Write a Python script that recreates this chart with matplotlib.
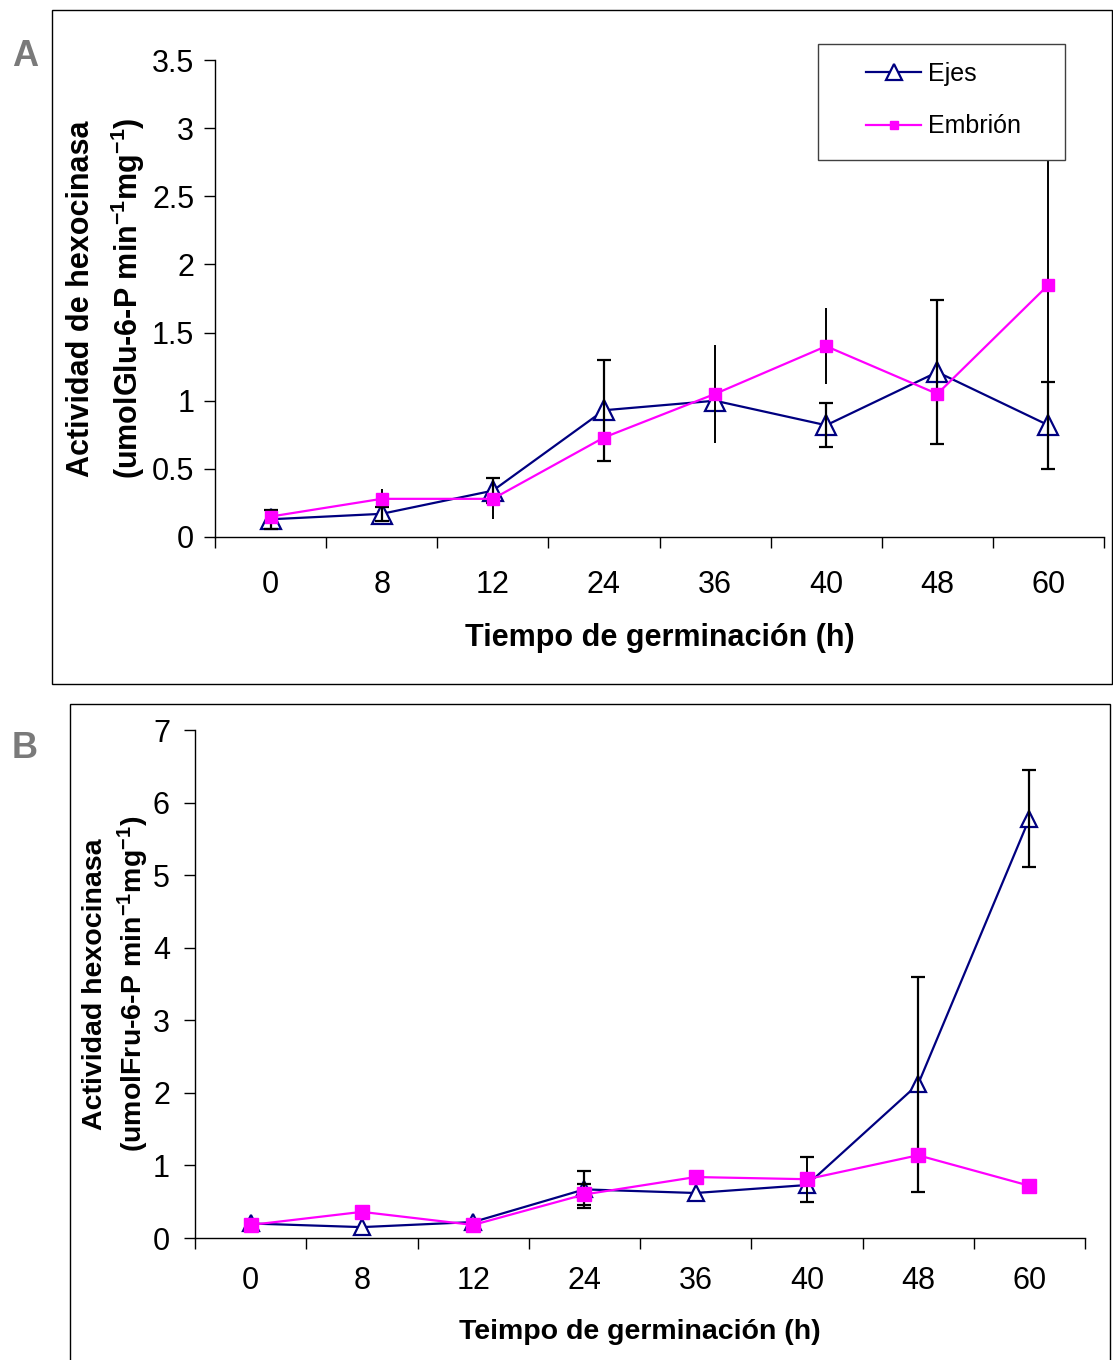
import matplotlib
matplotlib.use("Agg")
import matplotlib.pyplot as plt
from matplotlib.patches import Rectangle
import numpy as np

plt.rcParams["font.family"] = ["Liberation Sans", "DejaVu Sans"]
plt.rcParams["mathtext.default"] = "regular"

# hours of germination (categorical axis)
hours = ["0", "8", "12", "24", "36", "40", "48", "60"]

# panel A: hexokinase with glucose
ejes_a = [0.13, 0.17, 0.34, 0.93, 1.00, 0.82, 1.21, 0.82]
ejes_a_err = [0.07, 0.05, 0.09, 0.37, 0.0, 0.16, 0.53, 0.32]
emb_a = [0.15, 0.28, 0.28, 0.73, 1.05, 1.40, 1.05, 1.85]
emb_a_err = [0.0, 0.07, 0.15, 0.0, 0.36, 0.28, 0.0, 1.30]

# panel B: hexokinase with fructose
ejes_b = [0.20, 0.15, 0.22, 0.67, 0.62, 0.73, 2.12, 5.78]
ejes_b_err = [0.0, 0.0, 0.0, 0.26, 0.0, 0.0, 1.48, 0.67]
emb_b = [0.18, 0.36, 0.18, 0.60, 0.84, 0.81, 1.14, 0.72]
emb_b_err = [0.0, 0.0, 0.0, 0.15, 0.0, 0.31, 0.0, 0.0]

NAVY = "#000080"
MAGENTA = "#FF00FF"

W, H = 1113, 1360
fig = plt.figure(figsize=(W / 100, H / 100), dpi=100)


def px_box(left, top, right, bottom):
    return [left / W, 1 - bottom / H, (right - left) / W, (bottom - top) / H]


def draw_panel(ax, ejes, ejes_err, emb, emb_err, tri_ms, sq_ms, emb_caps):
    x = np.arange(len(hours))
    ax.plot(x, ejes, color=NAVY, lw=1.6, marker="^", ms=tri_ms, mfc="white",
            mec=NAVY, mew=1.6, zorder=2, label="Ejes")
    m = np.asarray(ejes_err) > 0
    ax.errorbar(x[m], np.asarray(ejes)[m], yerr=np.asarray(ejes_err)[m], fmt="none",
                ecolor="black", elinewidth=1.6, capsize=5, capthick=1.6, zorder=3)
    m = np.asarray(emb_err) > 0
    ax.errorbar(x[m], np.asarray(emb)[m], yerr=np.asarray(emb_err)[m], fmt="none",
                ecolor="black", elinewidth=1.4, capsize=5 if emb_caps else 0,
                capthick=1.6, zorder=3)
    ax.plot(x, emb, color=MAGENTA, lw=1.6, marker="s", ms=sq_ms, mfc=MAGENTA,
            mec=MAGENTA, zorder=4, label="Embrión")
    ax.set_xlim(-0.5, len(hours) - 0.5)
    ax.set_xticks(np.arange(len(hours) + 1) - 0.5)
    ax.set_xticklabels([])
    ax.set_xticks(x, minor=True)
    ax.set_xticklabels(hours, minor=True)
    ax.spines[["top", "right"]].set_visible(False)
    for s in ("left", "bottom"):
        ax.spines[s].set_linewidth(1.0)
    ax.tick_params(axis="x", which="major", direction="out", length=8, width=1.0)
    ax.tick_params(axis="y", which="major", direction="out", length=8, width=1.0)


# frames around panels
fig.add_artist(Rectangle((52 / W, 1 - 684 / H), 1060 / W, 674 / H,
                         transform=fig.transFigure, fill=False, ec="black", lw=1.0))
fig.add_artist(Rectangle((70 / W, 1 - 1365 / H), 1040 / W, 661 / H,
                         transform=fig.transFigure, fill=False, ec="black", lw=1.0))

# ---- panel A
axA = fig.add_axes(px_box(215, 60, 1104, 537))
draw_panel(axA, ejes_a, ejes_a_err, emb_a, emb_a_err, tri_ms=15, sq_ms=8, emb_caps=False)
axA.set_ylim(0, 3.5)
yt = np.arange(0, 3.51, 0.5)
axA.set_yticks(yt)
axA.set_yticklabels([f"{v:g}" for v in yt], fontsize=22)
axA.tick_params(axis="y", pad=7)
axA.tick_params(axis="x", which="minor", length=0, labelsize=22, pad=24)
axA.set_xlabel("Tiempo de germinación (h)", fontsize=22, fontweight="bold", va="top")
axA.xaxis.set_label_coords(0.5, -0.18)
axA.set_ylabel("Actividad de hexocinasa\n(umolGlu-6-P min$^{-1}$mg$^{-1}$)",
               fontsize=22, fontweight="bold", linespacing=1.45)
axA.yaxis.set_label_coords(-0.076, 0.5)

# legend box (drawn as its own rectangle, Excel style)
axA.add_patch(Rectangle((818 / W, 1 - 160 / H), 247 / W, 116 / H,
                        transform=fig.transFigure, fc="white", ec="#404040",
                        lw=1.0, zorder=10, clip_on=False))
leg = axA.legend(loc="center left", bbox_to_anchor=(866 / W, 1 - 100 / H),
                 bbox_transform=fig.transFigure, frameon=False, fontsize=18,
                 handlelength=2.2, handletextpad=0.3, labelspacing=1.15,
                 borderpad=0, borderaxespad=0, markerscale=0.75)
leg.set_zorder(11)

# ---- panel B
axB = fig.add_axes(px_box(195, 730, 1085, 1238))
draw_panel(axB, ejes_b, ejes_b_err, emb_b, emb_b_err, tri_ms=11, sq_ms=10, emb_caps=True)
axB.set_ylim(0, 7)
axB.set_yticks(np.arange(0, 8, 1))
axB.set_yticklabels([str(v) for v in range(8)], fontsize=22)
axB.tick_params(axis="y", pad=10)
axB.tick_params(axis="x", which="minor", length=0, labelsize=22, pad=20)
axB.set_xlabel("Teimpo de germinación (h)", fontsize=20.5, fontweight="bold", va="top")
axB.xaxis.set_label_coords(0.5, -0.16)
axB.set_ylabel("Actividad hexocinasa\n(umolFru-6-P min$^{-1}$mg$^{-1}$)",
               fontsize=20.5, fontweight="bold", linespacing=1.3)
axB.yaxis.set_label_coords(-0.049, 0.5)

# panel letters
fig.text(25 / W, 1 - 57 / H, "A", fontsize=26, fontweight="bold", color="#7a7a7a",
         ha="center", va="center")
fig.text(25 / W, 1 - 748 / H, "B", fontsize=26, fontweight="bold", color="#7a7a7a",
         ha="center", va="center")

fig.savefig("out.png", dpi=100)
